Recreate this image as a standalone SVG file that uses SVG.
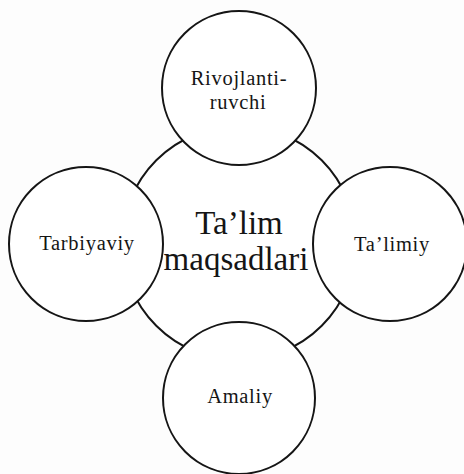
<svg xmlns="http://www.w3.org/2000/svg" width="464" height="474" viewBox="0 0 464 474">
<style>
.c{fill:#ffffff;stroke:#151515;stroke-width:2}
.s{font-family:"Liberation Serif","Times New Roman",serif;font-size:20.5px;letter-spacing:0.7px;fill:#151515;text-anchor:middle}
.b{font-family:"Liberation Serif","Times New Roman",serif;font-size:33px;fill:#151515;text-anchor:middle}
</style>
<rect width="464" height="474" fill="#fdfdfd"/>
<g id="center">
<circle class="c" cx="239" cy="243" r="117"/>
<text class="b" x="239" y="234">Ta’lim</text>
<text class="b" x="236" y="270">maqsadlari</text>
</g>
<g id="connectors"></g>
<g id="top">
<circle class="c" cx="239" cy="88" r="77"/>
<text class="s" x="239" y="85">Rivojlanti-</text>
<text class="s" x="238" y="109">ruvchi</text>
</g>
<g id="left">
<circle class="c" cx="86" cy="244" r="77"/>
<text class="s" x="87" y="250">Tarbiyaviy</text>
</g>
<g id="right">
<circle class="c" cx="390" cy="244" r="77"/>
<text class="s" x="392" y="251">Ta’limiy</text>
</g>
<g id="bottom">
<circle class="c" cx="239" cy="398" r="76"/>
<text class="s" x="240" y="403">Amaliy</text>
</g>
</svg>
